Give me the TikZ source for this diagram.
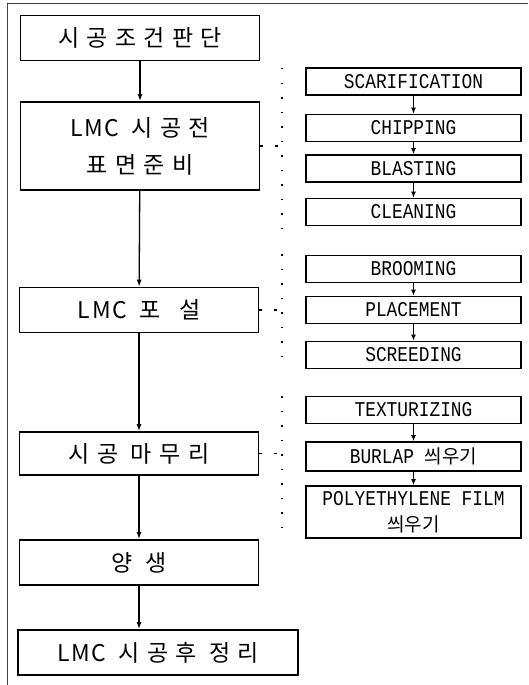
\documentclass[tikz,border=0pt]{standalone}
\usepackage{fontspec}
\usetikzlibrary{arrows.meta}
\newfontfamily\kr[LetterSpace=32]{Noto Sans CJK KR}
\newfontfamily\krs[LetterSpace=8]{Noto Sans CJK KR}
\newfontfamily\krn{Noto Sans CJK KR}
\newfontfamily\cond[FakeStretch=0.85]{Liberation Mono}
\newcommand{\lmc}{{\krs LMC}\hspace{12pt}}
\begin{document}
\begin{tikzpicture}[x=1pt,y=-1pt,
  mainbox/.style={draw,line width=1.8pt,minimum width=239pt,minimum height=45pt,inner sep=0pt,
    font=\kr\fontsize{23}{37}\selectfont,align=center},
  subbox/.style={draw,line width=1.6pt,minimum width=215pt,minimum height=27pt,inner sep=0pt,
    font=\cond\fontsize{21}{24}\selectfont,align=center},
  flow/.style={line width=1.3pt,-{Latex[length=7pt,width=5pt]}},
  subflow/.style={line width=1.2pt,-{Latex[length=6pt,width=5pt]}},
  bracket/.style={line width=1.6pt,dash pattern=on 1.5pt off 13pt},
  link/.style={line width=1.4pt,dash pattern=on 3pt off 12pt}]
\useasboundingbox (0,0) rectangle (528,685);
% frame
\draw[line width=0.9pt,black!75] (7,685) -- (7,3) -- (528,3);
% main boxes
\node[mainbox] (b1) at (140,38) {시공조건판단};
\node[mainbox,minimum height=88pt] (b2) at (140,146) {\lmc 시공전\\표면준비};
\node[mainbox] (b3) at (139,310) {\lmc 포\hspace{6pt} 설};
\node[mainbox,minimum height=43pt] (b4) at (139,453.5) {시공 마무리};
\node[mainbox] (b5) at (139,562.5) {양 생};
\node[mainbox,minimum width=280pt] (b6) at (158,652.5) {\lmc 시공후 정리};
\draw[flow] (b1) -- (b2);
\draw[flow] (b2) -- (b3);
\draw[flow] (b3) -- (b4);
\draw[flow] (b4) -- (b5);
\draw[flow] (b5.south) -- (b5.south |- b6.north);
% sub boxes
\node[subbox] (r1) at (413.5,81.5) {SCARIFICATION};
\node[subbox] (r2) at (413.5,128) {CHIPPING};
\node[subbox] (r3) at (413.5,168.5) {BLASTING};
\node[subbox] (r4) at (413.5,212) {CLEANING};
\node[subbox] (r5) at (413.5,269) {BROOMING};
\node[subbox] (r6) at (413.5,310) {PLACEMENT};
\node[subbox] (r7) at (413.5,355) {SCREEDING};
\node[subbox] (r8) at (413.5,410) {TEXTURIZING};
\node[subbox,minimum height=29pt] (r9) at (413.5,456.5) {BURLAP {\krn\fontsize{19}{24}\selectfont 씌우기}};
\node[subbox,minimum height=52pt] (r10) at (413.5,512) {POLYETHYLENE FILM\\[2pt]{\krn\fontsize{19}{24}\selectfont 씌우기}};
\draw[subflow] (r1) -- (r2);
\draw[subflow] (r2) -- (r3);
\draw[subflow] (r3) -- (r4);
\draw[subflow] (r5) -- (r6);
\draw[subflow] (r6) -- (r7);
\draw[subflow] (r8) -- (r9);
\draw[subflow] (r9) -- (r10);
% brackets
\coordinate (g1t) at (282,68);
\coordinate (g1b) at (282,228);
\coordinate (g1m) at (282,146);
\coordinate (g2t) at (282,254);
\coordinate (g2b) at (282,368);
\coordinate (g2m) at (282,310);
\coordinate (g3t) at (282,396);
\coordinate (g3b) at (282,538);
\coordinate (g3m) at (282,453.5);
\draw[bracket] (g1t) -- (g1b);
\draw[bracket] (g2t) -- (g2b);
\draw[bracket] (g3t) -- (g3b);
\draw[link] (b2.east |- g1m) -- (g1m);
\draw[link] (b3.east |- g2m) -- (g2m);
\draw[link] (b4.east |- g3m) -- (g3m);
\end{tikzpicture}
\end{document}
